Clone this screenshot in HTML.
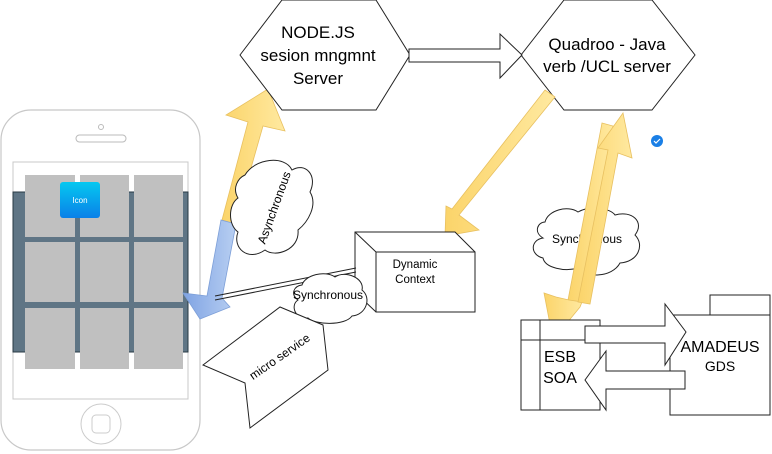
<!DOCTYPE html>
<html><head><meta charset="utf-8"><style>
html,body{margin:0;padding:0;background:#fff;}
svg{display:block;font-family:"Liberation Sans",Arial,sans-serif;}
</style></head><body>
<svg width="772" height="454" viewBox="0 0 772 454" xmlns="http://www.w3.org/2000/svg">
<defs>
<linearGradient id="gold" x1="0" y1="0" x2="1" y2="0"><stop offset="0" stop-color="#fbd46a"/><stop offset="1" stop-color="#ffe9a0"/></linearGradient>
<linearGradient id="blue" x1="0" y1="0" x2="1" y2="0"><stop offset="0" stop-color="#7fa3e3"/><stop offset="1" stop-color="#b8cff2"/></linearGradient>
<linearGradient id="icon" x1="0" y1="0" x2="0" y2="1"><stop offset="0" stop-color="#05c8f0"/><stop offset="1" stop-color="#0a80e8"/></linearGradient>
</defs>
<rect x="1" y="110" width="199" height="340" rx="30" fill="#fff" stroke="#c8c8c8" stroke-width="1.2"/>
<circle cx="101" cy="127" r="2.5" fill="none" stroke="#bbb"/>
<rect x="76" y="135" width="50" height="7" rx="3.5" fill="none" stroke="#bbb"/>
<circle cx="101" cy="424" r="20" fill="none" stroke="#ccc"/>
<rect x="92" y="415" width="18" height="18" rx="4" fill="none" stroke="#ccc"/>
<rect x="13" y="162" width="175" height="237" fill="#fff" stroke="#c8c8c8"/>
<rect x="13" y="192" width="175" height="160" fill="#5f7585" stroke="#2a3a44"/>
<g fill="#c0c0c0">
<rect x="25" y="175" width="50" height="62"/><rect x="80" y="175" width="49" height="62"/><rect x="134" y="175" width="49" height="62"/>
<rect x="25" y="242" width="50" height="60"/><rect x="80" y="242" width="49" height="60"/><rect x="134" y="242" width="49" height="60"/>
<rect x="25" y="308" width="50" height="61"/><rect x="80" y="308" width="49" height="61"/><rect x="134" y="308" width="49" height="61"/>
</g>
<rect x="60" y="182" width="40" height="36" rx="3" fill="url(#icon)"/>
<text x="80" y="203" font-size="8" fill="#fff" text-anchor="middle">Icon</text>

<polygon points="222,220 235,224 263,126 285,131 268,89 226,115 248,122" fill="url(#gold)" stroke="#e8c060" stroke-width="0.8"/>
<polygon points="221,220 236,224 222,298 230,307 200,319 183,293 207,296" fill="url(#blue)" stroke="#7d9fd8" stroke-width="0.8"/>

<path d="M245,175 C255,158 285,155 292,170 C305,162 318,175 310,192 C318,205 308,222 298,230 C300,250 275,258 265,250 C248,262 232,248 238,232 C228,225 228,205 238,198 C232,188 238,178 245,175 Z" fill="#fff" stroke="#222"/>
<text transform="translate(275,208) rotate(-70)" font-size="12" text-anchor="middle" dominant-baseline="middle">Asynchronous</text>

<polygon points="240,55 282,0 376,0 410,55 376,110 282,110" fill="#fff" stroke="#222"/>
<text x="318" y="38" font-size="17" text-anchor="middle">NODE.JS</text>
<text x="318" y="61" font-size="17" text-anchor="middle">sesion mngmnt</text>
<text x="318" y="84" font-size="17" text-anchor="middle">Server</text>
<polygon points="521,55 564,0 652,0 695,55 652,110 564,110" fill="#fff" stroke="#222"/>
<text x="607" y="50" font-size="17" text-anchor="middle">Quadroo - Java</text>
<text x="607" y="72" font-size="17" text-anchor="middle">verb /UCL  server</text>
<polygon points="409,49 500,49 500,34 522,55 500,78 500,62 409,62" fill="#fff" stroke="#222"/>

<polygon points="545,90 555,97 459,215 479,230 445,236 446,206 452,209" fill="url(#gold)" stroke="#e8c060" stroke-width="0.8"/>

<path d="M545,222 C548,210 568,205 578,212 C590,205 610,208 615,215 C632,210 645,222 635,235 C645,245 638,262 620,263 C612,278 585,278 578,268 C565,272 545,268 543,258 C530,255 530,240 543,238 C533,232 538,222 545,222 Z" fill="#fff" stroke="#222"/>
<text x="587" y="243" font-size="12" text-anchor="middle">Synchronous</text>
<polygon points="602,123 613,126 580,302 568,300" fill="url(#gold)" stroke="#e8c060" stroke-width="0.8"/>
<polygon points="569,300 582,302 580,307 553,340 544,293 556,297" fill="url(#gold)" stroke="#e8c060" stroke-width="0.8"/>
<polygon points="578,302 590,304 618,153 632,158 623,113 598,148 608,150" fill="url(#gold)" stroke="#e8c060" stroke-width="0.8"/>
<circle cx="657" cy="141" r="6" fill="#1a7fe6"/>
<path d="M654,141 l2,2 l4,-4" stroke="#fff" stroke-width="1.2" fill="none"/>

<polygon points="355,232 455,232 475,252 475,312 376,312 355,292" fill="#fff" stroke="#222"/>
<rect x="376" y="252" width="99" height="60" fill="#fff" stroke="#222"/>
<line x1="355" y1="232" x2="376" y2="252" stroke="#222"/>
<text x="415" y="268" font-size="11.5" text-anchor="middle">Dynamic</text>
<text x="415" y="283" font-size="11.5" text-anchor="middle">Context</text>

<line x1="215" y1="296" x2="356" y2="268" stroke="#222"/>
<line x1="215" y1="300" x2="356" y2="272" stroke="#222"/>
<path d="M302,285 C305,275 325,270 335,277 C345,270 365,278 362,290 C372,298 366,315 352,316 C345,326 315,325 308,318 C295,320 290,305 298,300 C290,294 294,286 302,285 Z" fill="#fff" stroke="#222"/>
<text x="328" y="299" font-size="12" text-anchor="middle">Synchronous</text>

<polygon points="203,365 280,307 323,325 328,370 250,428 245,383" fill="#fff" stroke="#222"/>
<text transform="translate(282,360) rotate(-35)" font-size="12" text-anchor="middle">micro service</text>

<rect x="521" y="320" width="79" height="90" fill="#fff" stroke="#222"/>
<line x1="540" y1="320" x2="540" y2="410" stroke="#222"/>
<line x1="521" y1="340" x2="600" y2="340" stroke="#222"/>
<text x="560" y="362" font-size="16" text-anchor="middle">ESB</text>
<text x="560" y="383" font-size="16" text-anchor="middle">SOA</text>
<rect x="710" y="295" width="60" height="20" fill="#fff" stroke="#222"/>
<rect x="670" y="315" width="100" height="100" fill="#fff" stroke="#222"/>
<polygon points="585,326 665,326 665,304 686,332 665,365 665,343 585,343" fill="#fff" stroke="#222"/>
<polygon points="685,371 606,371 606,351 585,380 606,410 606,389 685,389" fill="#fff" stroke="#222"/>
<text x="720" y="352" font-size="16" text-anchor="middle">AMADEUS</text>
<text x="720" y="371" font-size="14" text-anchor="middle">GDS</text>
</svg>
</body></html>
